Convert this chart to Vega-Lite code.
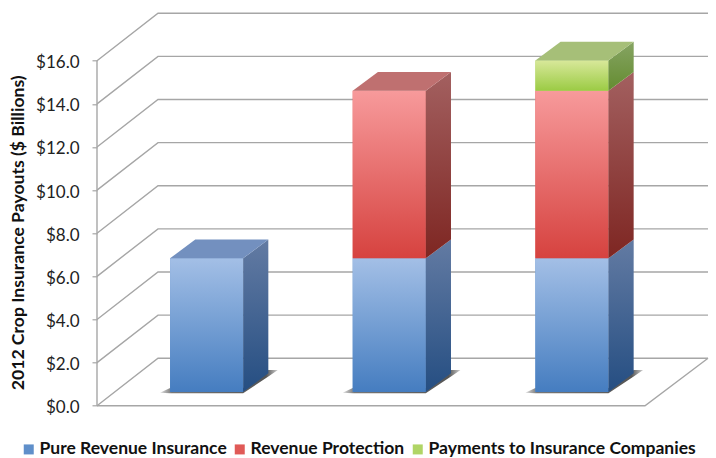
{
"$schema":"https://vega.github.io/schema/vega-lite/v6.json",
"width":611,"height":392.4,
"autosize":"none",
"padding":{"left":97,"top":13.3,"right":8,"bottom":52.3},
"background":"white",
"config":{"view":{"stroke":null},"font":"Lato"},
"datasets":{
"grid":[
{"line":"v0","pos":0,"value":0},{"line":"v0","pos":0.334,"value":2.2},{"line":"v0","pos":3.345,"value":2.2},
{"line":"v2","pos":0,"value":2},{"line":"v2","pos":0.334,"value":4.2},{"line":"v2","pos":3.345,"value":4.2},
{"line":"v4","pos":0,"value":4},{"line":"v4","pos":0.334,"value":6.2},{"line":"v4","pos":3.345,"value":6.2},
{"line":"v6","pos":0,"value":6},{"line":"v6","pos":0.334,"value":8.2},{"line":"v6","pos":3.345,"value":8.2},
{"line":"v8","pos":0,"value":8},{"line":"v8","pos":0.334,"value":10.2},{"line":"v8","pos":3.345,"value":10.2},
{"line":"v10","pos":0,"value":10},{"line":"v10","pos":0.334,"value":12.2},{"line":"v10","pos":3.345,"value":12.2},
{"line":"v12","pos":0,"value":12},{"line":"v12","pos":0.334,"value":14.2},{"line":"v12","pos":3.345,"value":14.2},
{"line":"v14","pos":0,"value":14},{"line":"v14","pos":0.334,"value":16.2},{"line":"v14","pos":3.345,"value":16.2},
{"line":"v16","pos":0,"value":16},{"line":"v16","pos":0.334,"value":18.2},{"line":"v16","pos":3.345,"value":18.2},
{"line":"floor","pos":0,"value":0},{"line":"floor","pos":3,"value":0},{"line":"floor","pos":3.345,"value":2.2},
{"line":"wall","pos":0,"value":0},{"line":"wall","pos":0,"value":16}
],
"shadow":[
{"bar":1,"pos":0.345,"up":-0.03,"low":-0.03},{"bar":1,"pos":0.4,"up":0.19,"low":-0.06},{"bar":1,"pos":0.8,"up":0.19,"low":-0.06},{"bar":1,"pos":0.938,"up":1.02,"low":0.72},{"bar":1,"pos":0.99,"up":1.02,"low":1.02},
{"bar":2,"pos":1.345,"up":-0.03,"low":-0.03},{"bar":2,"pos":1.4,"up":0.19,"low":-0.06},{"bar":2,"pos":1.8,"up":0.19,"low":-0.06},{"bar":2,"pos":1.938,"up":1.02,"low":0.72},{"bar":2,"pos":1.99,"up":1.02,"low":1.02},
{"bar":3,"pos":2.345,"up":-0.03,"low":-0.03},{"bar":3,"pos":2.4,"up":0.19,"low":-0.06},{"bar":3,"pos":2.8,"up":0.19,"low":-0.06},{"bar":3,"pos":2.938,"up":1.02,"low":0.72},{"bar":3,"pos":2.99,"up":1.02,"low":1.02}
],
"bars":[
{"start":0.4,"end":0.8,"series":"Pure Revenue Insurance","low":0,"high":6.2},
{"start":1.4,"end":1.8,"series":"Pure Revenue Insurance","low":0,"high":6.2},
{"start":1.4,"end":1.8,"series":"Revenue Protection","low":6.2,"high":13.97},
{"start":2.4,"end":2.8,"series":"Pure Revenue Insurance","low":0,"high":6.2},
{"start":2.4,"end":2.8,"series":"Revenue Protection","low":6.2,"high":13.97},
{"start":2.4,"end":2.8,"series":"Payments to Insurance Companies","low":13.97,"high":15.38}
],
"sides":[
{"bar":"1b","series":"Pure Revenue Insurance","pos":0.8,"up":6.2,"low":0},{"bar":"1b","series":"Pure Revenue Insurance","pos":0.938,"up":7.07,"low":0.87},
{"bar":"2b","series":"Pure Revenue Insurance","pos":1.8,"up":6.2,"low":0},{"bar":"2b","series":"Pure Revenue Insurance","pos":1.938,"up":7.07,"low":0.87},
{"bar":"3b","series":"Pure Revenue Insurance","pos":2.8,"up":6.2,"low":0},{"bar":"3b","series":"Pure Revenue Insurance","pos":2.938,"up":7.07,"low":0.87},
{"bar":"2r","series":"Revenue Protection","pos":1.8,"up":13.97,"low":6.2},{"bar":"2r","series":"Revenue Protection","pos":1.938,"up":14.84,"low":7.07},
{"bar":"3r","series":"Revenue Protection","pos":2.8,"up":13.97,"low":6.2},{"bar":"3r","series":"Revenue Protection","pos":2.938,"up":14.84,"low":7.07},
{"bar":"3g","series":"Payments to Insurance Companies","pos":2.8,"up":15.38,"low":13.97},{"bar":"3g","series":"Payments to Insurance Companies","pos":2.938,"up":16.25,"low":14.84}
],
"tops":[
{"series":"Pure Revenue Insurance","pos":0.4,"up":6.2,"low":6.2},{"series":"Pure Revenue Insurance","pos":0.538,"up":7.07,"low":6.2},{"series":"Pure Revenue Insurance","pos":0.8,"up":7.07,"low":6.2},{"series":"Pure Revenue Insurance","pos":0.938,"up":7.07,"low":7.07},
{"series":"Revenue Protection","pos":1.4,"up":13.97,"low":13.97},{"series":"Revenue Protection","pos":1.538,"up":14.84,"low":13.97},{"series":"Revenue Protection","pos":1.8,"up":14.84,"low":13.97},{"series":"Revenue Protection","pos":1.938,"up":14.84,"low":14.84},
{"series":"Payments to Insurance Companies","pos":2.4,"up":15.38,"low":15.38},{"series":"Payments to Insurance Companies","pos":2.538,"up":16.25,"low":15.38},{"series":"Payments to Insurance Companies","pos":2.8,"up":16.25,"low":15.38},{"series":"Payments to Insurance Companies","pos":2.938,"up":16.25,"low":16.25}
]
},
"layer":[
{"data":{"name":"grid"},
 "mark":{"type":"line","color":"#a6a6a6","strokeWidth":1.4,"clip":false},
 "encoding":{
  "x":{"field":"pos","type":"quantitative","scale":{"domain":[0,3.345],"nice":false,"zero":false},"axis":null},
  "y":{"field":"value","type":"quantitative","scale":{"domain":[0,18.2],"nice":false},
   "axis":{"values":[0,2,4,6,8,10,12,14,16],"format":"$.1f","domain":false,"grid":false,"tickColor":"#a6a6a6","tickSize":5,"tickWidth":1.2,"labelFontSize":17,"labelColor":"#222","labelPadding":13,"labelOffset":2,
    "title":"2012 Crop Insurance Payouts ($ Billions)","titleFontSize":17.6,"titleFontWeight":"bold","titleColor":"#111","titleX":-70,"titleY":219,"titleAngle":-90}},
  "detail":{"field":"line"}}},
{"data":{"name":"shadow"},
 "mark":{"type":"area","yOffset":-13.7,"y2Offset":-13.7,
  "fill":{"gradient":"linear","x1":0,"y1":0,"x2":1,"y2":0,"stops":[{"offset":0,"color":"#e0e0e0"},{"offset":0.1,"color":"#777777"},{"offset":0.9,"color":"#555555"},{"offset":1,"color":"#d0d0d0"}]}},
 "encoding":{
  "x":{"field":"pos","type":"quantitative"},
  "y":{"field":"up","type":"quantitative","stack":null},
  "y2":{"field":"low"},
  "detail":{"field":"bar"}}},
{"data":{"name":"bars"},
 "mark":{"type":"rect","yOffset":-13.7,"y2Offset":-13.7},
 "encoding":{
  "x":{"field":"start","type":"quantitative"},"x2":{"field":"end"},
  "y":{"field":"high","type":"quantitative"},"y2":{"field":"low"},
  "color":{"field":"series","type":"nominal",
   "scale":{"domain":["Pure Revenue Insurance","Revenue Protection","Payments to Insurance Companies"],"range":["#5f8fca","#e05a57","#b0d566"]},
   "legend":{"title":null,"orient":"none","legendX":-77,"legendY":427,"direction":"horizontal","symbolType":"square","symbolSize":100,"symbolStrokeWidth":0,"labelFontSize":17.5,"labelFontWeight":"bold","labelColor":"#111","columnPadding":4,"labelOffset":2,"labelLimit":320}}}},
{"data":{"name":"bars"},"transform":[{"filter":"datum.series==='Pure Revenue Insurance'"}],
 "mark":{"type":"rect","yOffset":-13.7,"y2Offset":-13.7,"fill":{"gradient":"linear","x1":0,"y1":0,"x2":0,"y2":1,"stops":[{"offset":0,"color":"#a3bfe6"},{"offset":1,"color":"#457dc0"}]}},
 "encoding":{"x":{"field":"start","type":"quantitative"},"x2":{"field":"end"},"y":{"field":"high","type":"quantitative"},"y2":{"field":"low"}}},
{"data":{"name":"bars"},"transform":[{"filter":"datum.series==='Revenue Protection'"}],
 "mark":{"type":"rect","yOffset":-13.7,"y2Offset":-13.7,"fill":{"gradient":"linear","x1":0,"y1":0,"x2":0,"y2":1,"stops":[{"offset":0,"color":"#f79a9b"},{"offset":1,"color":"#d6423f"}]}},
 "encoding":{"x":{"field":"start","type":"quantitative"},"x2":{"field":"end"},"y":{"field":"high","type":"quantitative"},"y2":{"field":"low"}}},
{"data":{"name":"bars"},"transform":[{"filter":"datum.series==='Payments to Insurance Companies'"}],
 "mark":{"type":"rect","yOffset":-13.7,"y2Offset":-13.7,"fill":{"gradient":"linear","x1":0,"y1":0,"x2":0,"y2":1,"stops":[{"offset":0,"color":"#d8e89a"},{"offset":1,"color":"#9bcb44"}]}},
 "encoding":{"x":{"field":"start","type":"quantitative"},"x2":{"field":"end"},"y":{"field":"high","type":"quantitative"},"y2":{"field":"low"}}},
{"data":{"name":"sides"},"transform":[{"filter":"datum.series==='Pure Revenue Insurance'"}],
 "mark":{"type":"area","yOffset":-13.7,"y2Offset":-13.7,"fill":{"gradient":"linear","x1":0,"y1":0,"x2":0,"y2":1,"stops":[{"offset":0,"color":"#637ba3"},{"offset":1,"color":"#254e82"}]}},
 "encoding":{"x":{"field":"pos","type":"quantitative"},"y":{"field":"up","type":"quantitative","stack":null},"y2":{"field":"low"},"detail":{"field":"bar"}}},
{"data":{"name":"sides"},"transform":[{"filter":"datum.series==='Revenue Protection'"}],
 "mark":{"type":"area","yOffset":-13.7,"y2Offset":-13.7,"fill":{"gradient":"linear","x1":0,"y1":0,"x2":0,"y2":1,"stops":[{"offset":0,"color":"#a36060"},{"offset":1,"color":"#7e2622"}]}},
 "encoding":{"x":{"field":"pos","type":"quantitative"},"y":{"field":"up","type":"quantitative","stack":null},"y2":{"field":"low"},"detail":{"field":"bar"}}},
{"data":{"name":"sides"},"transform":[{"filter":"datum.series==='Payments to Insurance Companies'"}],
 "mark":{"type":"area","yOffset":-13.7,"y2Offset":-13.7,"fill":{"gradient":"linear","x1":0,"y1":0,"x2":0,"y2":1,"stops":[{"offset":0,"color":"#86a463"},{"offset":1,"color":"#648c30"}]}},
 "encoding":{"x":{"field":"pos","type":"quantitative"},"y":{"field":"up","type":"quantitative","stack":null},"y2":{"field":"low"},"detail":{"field":"bar"}}},
{"data":{"name":"tops"},"transform":[{"filter":"datum.series==='Pure Revenue Insurance'"}],
 "mark":{"type":"area","yOffset":-13.7,"y2Offset":-13.7,"fill":"#7390bf"},
 "encoding":{"x":{"field":"pos","type":"quantitative"},"y":{"field":"up","type":"quantitative","stack":null},"y2":{"field":"low"}}},
{"data":{"name":"tops"},"transform":[{"filter":"datum.series==='Revenue Protection'"}],
 "mark":{"type":"area","yOffset":-13.7,"y2Offset":-13.7,"fill":"#bf7070"},
 "encoding":{"x":{"field":"pos","type":"quantitative"},"y":{"field":"up","type":"quantitative","stack":null},"y2":{"field":"low"}}},
{"data":{"name":"tops"},"transform":[{"filter":"datum.series==='Payments to Insurance Companies'"}],
 "mark":{"type":"area","yOffset":-13.7,"y2Offset":-13.7,"fill":"#a6bf78"},
 "encoding":{"x":{"field":"pos","type":"quantitative"},"y":{"field":"up","type":"quantitative","stack":null},"y2":{"field":"low"}}}
]
}
